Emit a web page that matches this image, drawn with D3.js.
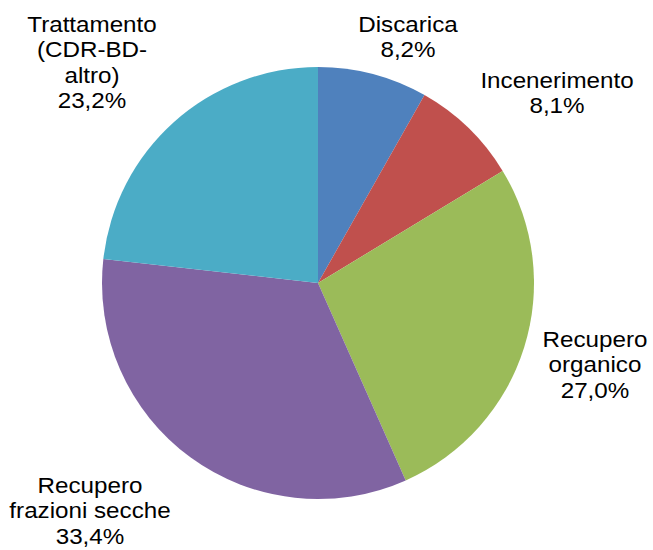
<!DOCTYPE html>
<html>
<head>
<meta charset="utf-8">
<script src="https://cdn.jsdelivr.net/npm/d3@7"></script>
<style>
  body { margin: 0; background: #fff; }
  text { font-family: "Liberation Sans", Arial, sans-serif; font-size: 22px; fill: #000; }
</style>
</head>
<body>
<div id="chart"></div>
<script>
// data
const categories = ["Discarica", "Incenerimento", "Recupero organico", "Recupero frazioni secche", "Trattamento (CDR-BD-altro)"];
const labelLines = [["Discarica"], ["Incenerimento"], ["Recupero", "organico"], ["Recupero", "frazioni secche"], ["Trattamento", "(CDR-BD-", "altro)"]];
const values = [8.2, 8.1, 27.0, 33.4, 23.2];
const colors = ["#4F81BD", "#C0504D", "#9BBB59", "#8064A2", "#4BACC6"];

// label placement (center x, first baseline)
const labelAnchors = [[408, 32], [557, 88], [595, 347], [90, 493], [92, 32]];

const width = 653, height = 550;
const cx = 318, cy = 283, radius = 216;
const lineH = 25.3;

const it = d3.formatLocale({decimal: ",", thousands: ".", grouping: [3], currency: ["€", ""]});
const fmt = it.format(".1f");

const svg = d3.select("#chart").append("svg")
    .attr("width", width)
    .attr("height", height);

const data = categories.map((c, i) => ({name: c, value: values[i], lines: labelLines[i], color: colors[i]}));

const pie = d3.pie()
    .value(d => d.value)
    .sort(null);

const arc = d3.arc()
    .innerRadius(0)
    .outerRadius(radius);

svg.append("g")
    .attr("transform", `translate(${cx},${cy})`)
  .selectAll("path")
  .data(pie(data))
  .join("path")
    .attr("fill", d => d.data.color)
    .attr("d", arc);

// labels
const labels = svg.append("g")
  .selectAll("text")
  .data(data)
  .join("text")
    .attr("text-anchor", "middle")
    .attr("transform", (d, i) => `translate(${labelAnchors[i][0]},${labelAnchors[i][1]}) scale(1.1,1)`);

labels.each(function(d) {
    const t = d3.select(this);
    const lines = d.lines.concat([fmt(d.value) + "%"]);
    lines.forEach((l, j) => {
        t.append("tspan")
            .attr("x", 0)
            .attr("y", j * lineH)
            .text(l);
    });
});
</script>
</body>
</html>
